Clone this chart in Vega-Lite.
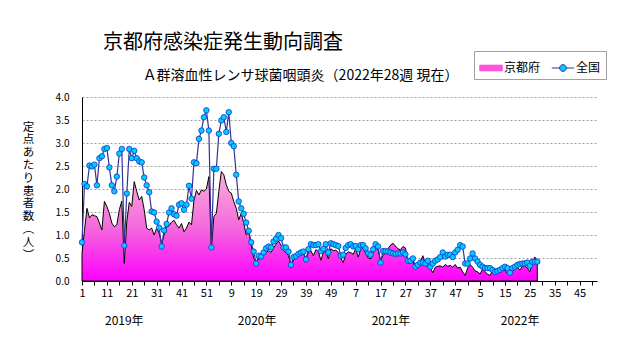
{
  "$schema": "https://vega.github.io/schema/vega-lite/v6.json",
  "width": 515,
  "height": 184,
  "autosize": "none",
  "padding": {"left": 82, "top": 97, "right": 34, "bottom": 66},
  "background": "white",
  "title": {
    "text": "京都府感染症発生動向調査",
    "anchor": "start",
    "frame": "group",
    "dx": 21,
    "offset": -2,
    "font": "Noto Sans CJK JP",
    "fontSize": 20,
    "fontWeight": "normal",
    "color": "#000000"
  },
  "config": {
    "view": {"stroke": null},
    "axis": {
      "labelFont": "Noto Sans CJK JP",
      "titleFont": "Noto Sans CJK JP",
      "labelColor": "#000000",
      "titleColor": "#000000",
      "domainColor": "#000000",
      "tickColor": "#000000",
      "titleFontWeight": "normal"
    },
    "legend": {"labelFont": "Noto Sans CJK JP"}
  },
  "data": {"values": [
    {"i":0,"kyoto":0.60,"zenkoku":0.84},{"i":1,"kyoto":1.10,"zenkoku":2.11},{"i":2,"kyoto":1.58,"zenkoku":2.06},{"i":3,"kyoto":1.37,"zenkoku":2.51},{"i":4,"kyoto":1.44,"zenkoku":2.49},
    {"i":5,"kyoto":1.42,"zenkoku":2.53},{"i":6,"kyoto":1.40,"zenkoku":2.08},{"i":7,"kyoto":1.26,"zenkoku":2.67},{"i":8,"kyoto":1.11,"zenkoku":2.71},{"i":9,"kyoto":1.73,"zenkoku":2.87},
    {"i":10,"kyoto":1.62,"zenkoku":2.89},{"i":11,"kyoto":1.47,"zenkoku":2.47},{"i":12,"kyoto":1.26,"zenkoku":2.08},{"i":13,"kyoto":1.18,"zenkoku":1.95},{"i":14,"kyoto":1.22,"zenkoku":2.27},
    {"i":15,"kyoto":1.55,"zenkoku":2.77},{"i":16,"kyoto":1.74,"zenkoku":2.87},{"i":17,"kyoto":0.38,"zenkoku":0.77},{"i":18,"kyoto":1.29,"zenkoku":1.90},{"i":19,"kyoto":1.71,"zenkoku":2.87},
    {"i":20,"kyoto":1.62,"zenkoku":2.67},{"i":21,"kyoto":2.16,"zenkoku":2.83},{"i":22,"kyoto":1.95,"zenkoku":2.67},{"i":23,"kyoto":1.76,"zenkoku":2.60},{"i":24,"kyoto":1.84,"zenkoku":2.58},
    {"i":25,"kyoto":1.55,"zenkoku":2.25},{"i":26,"kyoto":1.15,"zenkoku":2.08},{"i":27,"kyoto":1.11,"zenkoku":1.93},{"i":28,"kyoto":1.15,"zenkoku":1.51},{"i":29,"kyoto":1.00,"zenkoku":1.49},
    {"i":30,"kyoto":1.15,"zenkoku":1.29},{"i":31,"kyoto":1.04,"zenkoku":1.16},{"i":32,"kyoto":0.82,"zenkoku":0.75},{"i":33,"kyoto":1.00,"zenkoku":1.10},{"i":34,"kyoto":1.18,"zenkoku":1.24},
    {"i":35,"kyoto":1.20,"zenkoku":1.49},{"i":36,"kyoto":1.28,"zenkoku":1.58},{"i":37,"kyoto":1.32,"zenkoku":1.45},{"i":38,"kyoto":1.22,"zenkoku":1.42},{"i":39,"kyoto":1.15,"zenkoku":1.66},
    {"i":40,"kyoto":1.25,"zenkoku":1.69},{"i":41,"kyoto":1.07,"zenkoku":1.55},{"i":42,"kyoto":1.15,"zenkoku":1.66},{"i":43,"kyoto":1.28,"zenkoku":2.07},{"i":44,"kyoto":1.22,"zenkoku":1.79},
    {"i":45,"kyoto":1.75,"zenkoku":2.58},{"i":46,"kyoto":1.97,"zenkoku":2.56},{"i":47,"kyoto":1.87,"zenkoku":3.09},{"i":48,"kyoto":1.98,"zenkoku":3.27},{"i":49,"kyoto":1.95,"zenkoku":3.56},
    {"i":50,"kyoto":2.00,"zenkoku":3.71},{"i":51,"kyoto":2.27,"zenkoku":3.27},{"i":52,"kyoto":0.70,"zenkoku":0.73},{"i":53,"kyoto":1.40,"zenkoku":2.44},{"i":54,"kyoto":1.47,"zenkoku":2.44},
    {"i":55,"kyoto":1.95,"zenkoku":3.20},{"i":56,"kyoto":2.38,"zenkoku":3.49},{"i":57,"kyoto":2.31,"zenkoku":3.56},{"i":58,"kyoto":2.09,"zenkoku":3.24},{"i":59,"kyoto":1.95,"zenkoku":3.67},
    {"i":60,"kyoto":1.91,"zenkoku":3.00},{"i":61,"kyoto":1.73,"zenkoku":2.93},{"i":62,"kyoto":1.58,"zenkoku":2.31},{"i":63,"kyoto":1.33,"zenkoku":1.73},{"i":64,"kyoto":1.47,"zenkoku":1.58},
    {"i":65,"kyoto":1.26,"zenkoku":1.46},{"i":66,"kyoto":1.00,"zenkoku":1.27},{"i":67,"kyoto":1.07,"zenkoku":1.09},{"i":68,"kyoto":0.78,"zenkoku":0.84},{"i":69,"kyoto":0.49,"zenkoku":0.64},
    {"i":70,"kyoto":0.42,"zenkoku":0.38},{"i":71,"kyoto":0.47,"zenkoku":0.55},{"i":72,"kyoto":0.50,"zenkoku":0.53},{"i":73,"kyoto":0.58,"zenkoku":0.62},{"i":74,"kyoto":0.62,"zenkoku":0.71},
    {"i":75,"kyoto":0.66,"zenkoku":0.75},{"i":76,"kyoto":0.62,"zenkoku":0.73},{"i":77,"kyoto":0.72,"zenkoku":0.86},{"i":78,"kyoto":0.80,"zenkoku":0.92},{"i":79,"kyoto":0.87,"zenkoku":1.00},
    {"i":80,"kyoto":0.78,"zenkoku":0.93},{"i":81,"kyoto":0.66,"zenkoku":0.73},{"i":82,"kyoto":0.62,"zenkoku":0.73},{"i":83,"kyoto":0.55,"zenkoku":0.64},{"i":84,"kyoto":0.35,"zenkoku":0.35},
    {"i":85,"kyoto":0.45,"zenkoku":0.52},{"i":86,"kyoto":0.55,"zenkoku":0.54},{"i":87,"kyoto":0.58,"zenkoku":0.59},{"i":88,"kyoto":0.56,"zenkoku":0.62},{"i":89,"kyoto":0.60,"zenkoku":0.64},
    {"i":90,"kyoto":0.48,"zenkoku":0.47},{"i":91,"kyoto":0.62,"zenkoku":0.69},{"i":92,"kyoto":0.66,"zenkoku":0.80},{"i":93,"kyoto":0.55,"zenkoku":0.78},{"i":94,"kyoto":0.68,"zenkoku":0.78},
    {"i":95,"kyoto":0.64,"zenkoku":0.80},{"i":96,"kyoto":0.45,"zenkoku":0.65},{"i":97,"kyoto":0.62,"zenkoku":0.70},{"i":98,"kyoto":0.65,"zenkoku":0.80},{"i":99,"kyoto":0.48,"zenkoku":0.62},
    {"i":100,"kyoto":0.70,"zenkoku":0.82},{"i":101,"kyoto":0.66,"zenkoku":0.80},{"i":102,"kyoto":0.67,"zenkoku":0.78},{"i":103,"kyoto":0.62,"zenkoku":0.76},{"i":104,"kyoto":0.50,"zenkoku":0.55},
    {"i":105,"kyoto":0.40,"zenkoku":0.57},{"i":106,"kyoto":0.58,"zenkoku":0.72},{"i":107,"kyoto":0.63,"zenkoku":0.78},{"i":108,"kyoto":0.62,"zenkoku":0.80},{"i":109,"kyoto":0.58,"zenkoku":0.75},
    {"i":110,"kyoto":0.70,"zenkoku":0.76},{"i":111,"kyoto":0.52,"zenkoku":0.69},{"i":112,"kyoto":0.68,"zenkoku":0.78},{"i":113,"kyoto":0.72,"zenkoku":0.78},{"i":114,"kyoto":0.60,"zenkoku":0.71},
    {"i":115,"kyoto":0.50,"zenkoku":0.60},{"i":116,"kyoto":0.48,"zenkoku":0.57},{"i":117,"kyoto":0.62,"zenkoku":0.69},{"i":118,"kyoto":0.72,"zenkoku":0.80},{"i":119,"kyoto":0.68,"zenkoku":0.75},
    {"i":120,"kyoto":0.45,"zenkoku":0.40},{"i":121,"kyoto":0.55,"zenkoku":0.65},{"i":122,"kyoto":0.62,"zenkoku":0.65},{"i":123,"kyoto":0.70,"zenkoku":0.64},{"i":124,"kyoto":0.78,"zenkoku":0.62},
    {"i":125,"kyoto":0.82,"zenkoku":0.60},{"i":126,"kyoto":0.76,"zenkoku":0.59},{"i":127,"kyoto":0.70,"zenkoku":0.60},{"i":128,"kyoto":0.68,"zenkoku":0.60},{"i":129,"kyoto":0.75,"zenkoku":0.62},
    {"i":130,"kyoto":0.72,"zenkoku":0.58},{"i":131,"kyoto":0.42,"zenkoku":0.44},{"i":132,"kyoto":0.38,"zenkoku":0.44},{"i":133,"kyoto":0.44,"zenkoku":0.49},{"i":134,"kyoto":0.28,"zenkoku":0.31},
    {"i":135,"kyoto":0.35,"zenkoku":0.35},{"i":136,"kyoto":0.42,"zenkoku":0.40},{"i":137,"kyoto":0.55,"zenkoku":0.40},{"i":138,"kyoto":0.38,"zenkoku":0.38},{"i":139,"kyoto":0.30,"zenkoku":0.44},
    {"i":140,"kyoto":0.28,"zenkoku":0.31},{"i":141,"kyoto":0.18,"zenkoku":0.38},{"i":142,"kyoto":0.30,"zenkoku":0.44},{"i":143,"kyoto":0.32,"zenkoku":0.47},{"i":144,"kyoto":0.33,"zenkoku":0.52},
    {"i":145,"kyoto":0.30,"zenkoku":0.62},{"i":146,"kyoto":0.36,"zenkoku":0.53},{"i":147,"kyoto":0.32,"zenkoku":0.57},{"i":148,"kyoto":0.34,"zenkoku":0.57},{"i":149,"kyoto":0.30,"zenkoku":0.52},
    {"i":150,"kyoto":0.36,"zenkoku":0.62},{"i":151,"kyoto":0.28,"zenkoku":0.68},{"i":152,"kyoto":0.30,"zenkoku":0.78},{"i":153,"kyoto":0.20,"zenkoku":0.75},{"i":154,"kyoto":0.12,"zenkoku":0.38},
    {"i":155,"kyoto":0.28,"zenkoku":0.38},{"i":156,"kyoto":0.36,"zenkoku":0.49},{"i":157,"kyoto":0.30,"zenkoku":0.60},{"i":158,"kyoto":0.22,"zenkoku":0.49},{"i":159,"kyoto":0.20,"zenkoku":0.42},
    {"i":160,"kyoto":0.15,"zenkoku":0.35},{"i":161,"kyoto":0.26,"zenkoku":0.31},{"i":162,"kyoto":0.20,"zenkoku":0.28},{"i":163,"kyoto":0.15,"zenkoku":0.28},{"i":164,"kyoto":0.12,"zenkoku":0.28},
    {"i":165,"kyoto":0.22,"zenkoku":0.24},{"i":166,"kyoto":0.24,"zenkoku":0.20},{"i":167,"kyoto":0.20,"zenkoku":0.22},{"i":168,"kyoto":0.28,"zenkoku":0.24},{"i":169,"kyoto":0.30,"zenkoku":0.28},
    {"i":170,"kyoto":0.24,"zenkoku":0.31},{"i":171,"kyoto":0.16,"zenkoku":0.28},{"i":172,"kyoto":0.14,"zenkoku":0.18},{"i":173,"kyoto":0.22,"zenkoku":0.28},{"i":174,"kyoto":0.28,"zenkoku":0.31},
    {"i":175,"kyoto":0.30,"zenkoku":0.35},{"i":176,"kyoto":0.24,"zenkoku":0.37},{"i":177,"kyoto":0.32,"zenkoku":0.38},{"i":178,"kyoto":0.33,"zenkoku":0.38},{"i":179,"kyoto":0.28,"zenkoku":0.40},
    {"i":180,"kyoto":0.20,"zenkoku":0.33},{"i":181,"kyoto":0.40,"zenkoku":0.42},{"i":182,"kyoto":0.52,"zenkoku":0.42},{"i":183,"kyoto":0.45,"zenkoku":0.42}
  ]},
  "layer": [
    {
      "mark": {
        "type": "area",
        "fill": {"gradient": "linear", "x1": 0, "y1": 0, "x2": 0, "y2": 1,
          "stops": [{"offset": 0, "color": "#F8B0D8"}, {"offset": 0.5, "color": "#F46CDC"}, {"offset": 1, "color": "#FF00FF"}]},
        "stroke": "#000000",
        "strokeWidth": 1,
        "interpolate": "linear"
      },
      "encoding": {
        "x": {"field": "i", "type": "quantitative",
          "scale": {"domain": [0, 207], "nice": false, "zero": false},
          "axis": {
            "title": null,
            "values": [0,5,10,15,20,25,30,35,40,45,50,55,60,65,70,75,80,85,90,95,100,105,110,115,120,125,130,135,140,145,150,155,160,165,170,175,180,185,190,195,200,205],
            "labelExpr": "datum.value % 10 === 0 ? '' + ((datum.value % 52) + 1) : ''",
            "grid": false,
            "tickSize": 4,
            "labelPadding": 2,
            "labelFontSize": 11,
            "labelFlush": false,
            "labelOverlap": false
          }
        },
        "y": {"field": "kyoto", "type": "quantitative",
          "scale": {"domain": [0, 4], "nice": false},
          "axis": {
            "title": ["定","点","あ","た","り","患","者","数","︵","人","︶"],
            "titleAngle": 0,
            "titleFontSize": 11.5,
            "titleLineHeight": 12.8,
            "titleX": -54,
            "titleY": 30,
            "titleAlign": "center",
            "titleBaseline": "middle",
            "values": [0, 0.5, 1, 1.5, 2, 2.5, 3, 3.5, 4],
            "format": ".1f",
            "labelFontSize": 10,
            "ticks": false,
            "labelPadding": 13,
            "grid": true,
            "gridColor": "#A0A0A0",
            "gridDash": [2, 2],
            "gridWidth": 1
          }
        }
      }
    },
    {
      "mark": {"type": "line", "strokeWidth": 1.2, "interpolate": "linear"},
      "encoding": {
        "x": {"field": "i", "type": "quantitative", "axis": null},
        "y": {"field": "zenkoku", "type": "quantitative", "axis": null},
        "color": {
          "datum": "全国",
          "scale": {"domain": ["京都府", "全国"], "range": ["#FF44DD", "#333399"]},
          "legend": {
            "title": null,
            "orient": "none",
            "legendX": 392,
            "legendY": -46,
            "direction": "horizontal",
            "symbolSize": 500,
            "labelFontSize": 12,
            "labelColor": "#000000",
            "labelOffset": 1,
            "columnPadding": 8,
            "padding": 5,
            "strokeColor": "#A0A0A0",
            "fillColor": "#FFFFFF",
            "encode": {
              "symbols": {"update": {
                "shape": {"signal": "datum.value === '京都府' ? 'M-1,-0.25H1V0.25H-1Z' : 'M-1,0H-0.3M0.3,0H1M-0.3,0A0.3,0.3 0 1,1 0.3,0A0.3,0.3 0 1,1 -0.3,0'"},
                "fill": {"signal": "datum.value === '京都府' ? '#FF55DD' : '#00CCFF'"},
                "stroke": {"signal": "datum.value === '京都府' ? '#000000' : '#2233AA'"},
                "strokeWidth": {"value": 1},
                "opacity": {"value": 1},
                "fillOpacity": {"value": 1}
              }}
            }
          }
        }
      }
    },
    {
      "mark": {"type": "point", "filled": true, "fill": "#00CCFF", "stroke": "#1133CC", "strokeWidth": 0.8, "size": 30, "opacity": 1},
      "encoding": {
        "x": {"field": "i", "type": "quantitative", "axis": null},
        "y": {"field": "zenkoku", "type": "quantitative", "axis": null}
      }
    },
    {
      "mark": {"type": "rule", "opacity": 0},
      "encoding": {
        "x": {"field": "i", "type": "quantitative",
          "axis": {
            "title": "Ａ群溶血性レンサ球菌咽頭炎（2022年28週 現在）",
            "titleX": 218,
            "titleY": -240,
            "titleAlign": "center",
            "titleBaseline": "middle",
            "titleFontSize": 14,
            "titleAnchor": null,
            "orient": "bottom",
            "offset": 34,
            "values": [16.8, 70.2, 124, 175.9],
            "labelExpr": "datum.value < 40 ? '2019年' : datum.value < 100 ? '2020年' : datum.value < 150 ? '2021年' : '2022年'",
            "domain": false,
            "ticks": false,
            "grid": false,
            "labelFontSize": 12,
            "labelPadding": 0,
            "labelFlush": false,
            "labelOverlap": false
          }
        }
      }
    }
  ],
  "resolve": {"axis": {"x": "independent", "y": "independent"}}
}
